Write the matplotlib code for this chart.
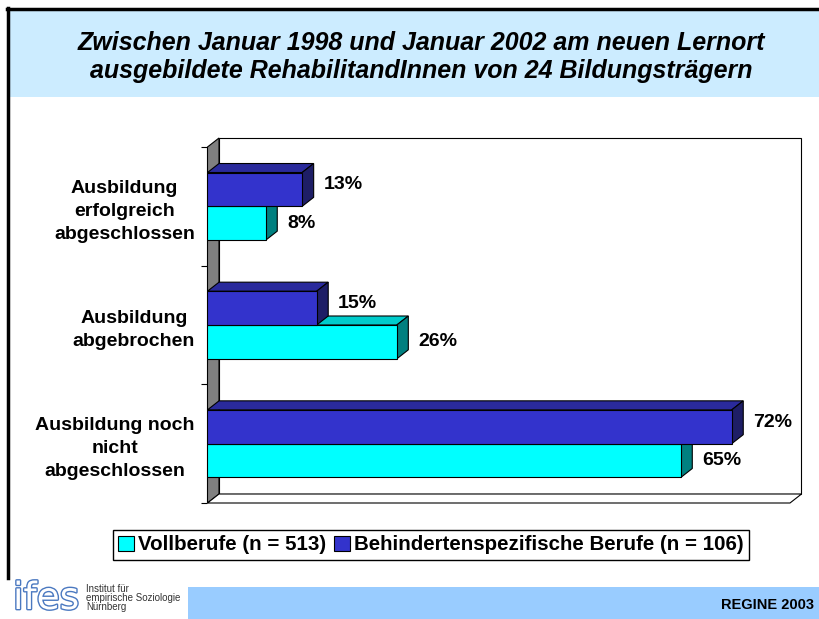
import matplotlib
matplotlib.use("Agg")
import matplotlib.pyplot as plt
from matplotlib.patches import Polygon, Rectangle, Patch
from matplotlib.lines import Line2D
import matplotlib.patheffects as pe

plt.rcParams['font.family'] = ['Liberation Sans', 'DejaVu Sans']

# data
categories = ["Ausbildung\nerfolgreich\nabgeschlossen",
              "Ausbildung\nabgebrochen",
              "Ausbildung noch\nnicht\nabgeschlossen"]
vollberufe = [8, 26, 65]          # n = 513
behinderten = [13, 15, 72]        # n = 106
series_names = ["Vollberufe (n = 513)", "Behindertenspezifische Berufe (n = 106)"]

title = ("Zwischen Januar 1998 und Januar 2002 am neuen Lernort\n"
         "ausgebildete RehabilitandInnen von 24 Bildungsträgern")

# colours (front, top, side)
cyan = ('#00FFFF', '#00CCCC', '#008080')
blue = ('#3333CC', '#2A2A9C', '#1E1E66')

W, H = 820, 619
fig = plt.figure(figsize=(W / 100, H / 100), dpi=100)


def fx(px):
    return px / W


def fy(py):
    return 1 - py / H


# page frame and header / footer bands
fig.add_artist(Rectangle((fx(9), fy(97)), 1 - fx(9), 87 / H,
                         transform=fig.transFigure, facecolor='#CCECFF',
                         edgecolor='none', zorder=0))
fig.add_artist(Line2D([fx(7), 1], [fy(9), fy(9)], transform=fig.transFigure,
                      color='black', lw=2.5))
fig.add_artist(Line2D([fx(8), fx(8)], [fy(8), fy(578)], transform=fig.transFigure,
                      color='black', lw=2.5))
fig.add_artist(Rectangle((fx(188), 0), 1 - fx(188), 32 / H,
                         transform=fig.transFigure, facecolor='#99CCFF',
                         edgecolor='none', zorder=0))

fig.text(fx(421), fy(57), title, ha='center', va='center', fontsize=18,
         fontweight='bold', fontstyle='italic', linespacing=1.25)

fig.text(fx(814), fy(605), "REGINE 2003", ha='right', va='center',
         fontsize=10.5, fontweight='bold')

# institute logo
fig.text(fx(13), fy(609), "ifes", ha='left', va='baseline', fontsize=27,
         color='white', family='DejaVu Sans',
         path_effects=[pe.Stroke(linewidth=2, foreground='#4A78C0'), pe.Normal()])
fig.text(fx(86), fy(598), "Institut für\nempirische Soziologie\nNürnberg",
         ha='left', va='center', fontsize=7, linespacing=0.9, color='#333333')

# chart area (front plane of the 3D box)
ax = fig.add_axes([fx(207.5), fy(503), 582.5 / W, 356 / H])
ax.set_xlim(0, 80)
ax.set_ylim(2.5, -0.5)
ax.patch.set_visible(False)
for s in ax.spines.values():
    s.set_visible(False)


def px_to_data(dx, dy):
    p0 = ax.transData.transform((0, 0))
    x1, y1 = ax.transData.inverted().transform((p0[0] + dx, p0[1] + dy))
    return x1, y1


ddx, ddy = px_to_data(11.5, 9)
gap, _ = px_to_data(10, 0)

# walls and floor
x0, x1 = 0, 80
y0, y1 = -0.5, 2.5
walls = [
    ([(ddx, y0 + ddy), (x1 + ddx, y0 + ddy), (x1 + ddx, y1 + ddy), (ddx, y1 + ddy)], 'white'),
    ([(x0, y0), (ddx, y0 + ddy), (ddx, y1 + ddy), (x0, y1)], '#808080'),
    ([(x0, y1), (x1, y1), (x1 + ddx, y1 + ddy), (ddx, y1 + ddy)], 'white'),
]
for pts, fc in walls:
    ax.add_patch(Polygon(pts, closed=True, facecolor=fc, edgecolor='black',
                         lw=0.8, clip_on=False, zorder=1))

h = 0.285


def draw_bar(yc, v, colors, shift):
    front, top, side = colors
    yt, yb = yc - h / 2, yc + h / 2
    ax.add_patch(Polygon([(0, yt), (v, yt), (v + ddx, yt + ddy), (ddx, yt + ddy)],
                         facecolor=top, edgecolor='black', lw=0.8,
                         clip_on=False, zorder=2))
    ax.add_patch(Polygon([(v, yt), (v, yb), (v + ddx, yb + ddy), (v + ddx, yt + ddy)],
                         facecolor=side, edgecolor='black', lw=0.8,
                         clip_on=False, zorder=2))
    ax.barh(yc, v, height=h, color=front, edgecolor='black', lw=0.8, zorder=3)
    ax.text(v + ddx + gap, yc + ddy * shift, f"{v}%", ha='left', va='center',
            fontsize=14, fontweight='bold')


for i in range(len(categories)):
    draw_bar(i + h / 2, vollberufe[i], cyan, 0.0)
    draw_bar(i - h / 2, behinderten[i], blue, 0.5)

# ticks on the left wall
ax.set_xticks([])
ax.set_yticks([-0.5, 0.5, 1.5, 2.5])
ax.set_yticklabels([])
ax.tick_params(axis='y', which='major', length=4, width=0.8, direction='out')
ax.set_yticks(range(len(categories)), categories, minor=True)
ax.tick_params(axis='y', which='minor', length=0, pad=9)
for lbl in ax.get_yticklabels(minor=True):
    lbl.set_ha('right')
    lbl.set_multialignment('center')
    lbl.set_fontsize(14)
    lbl.set_fontweight('bold')
    lbl.set_linespacing(1.45)

handles = [Patch(facecolor=cyan[0], edgecolor='black', lw=0.8),
           Patch(facecolor=blue[0], edgecolor='black', lw=0.8)]
leg = fig.legend(handles, series_names, loc='center', bbox_to_anchor=(fx(431), fy(545)),
                 ncol=2, frameon=True, fancybox=False, framealpha=1, edgecolor='black',
                 borderpad=0.25, handlelength=0.75, handleheight=0.75,
                 handletextpad=0.2, columnspacing=0.4,
                 prop={'size': 14.8, 'weight': 'bold'})
leg.get_frame().set_linewidth(1.0)

fig.savefig("out.png", dpi=100)
